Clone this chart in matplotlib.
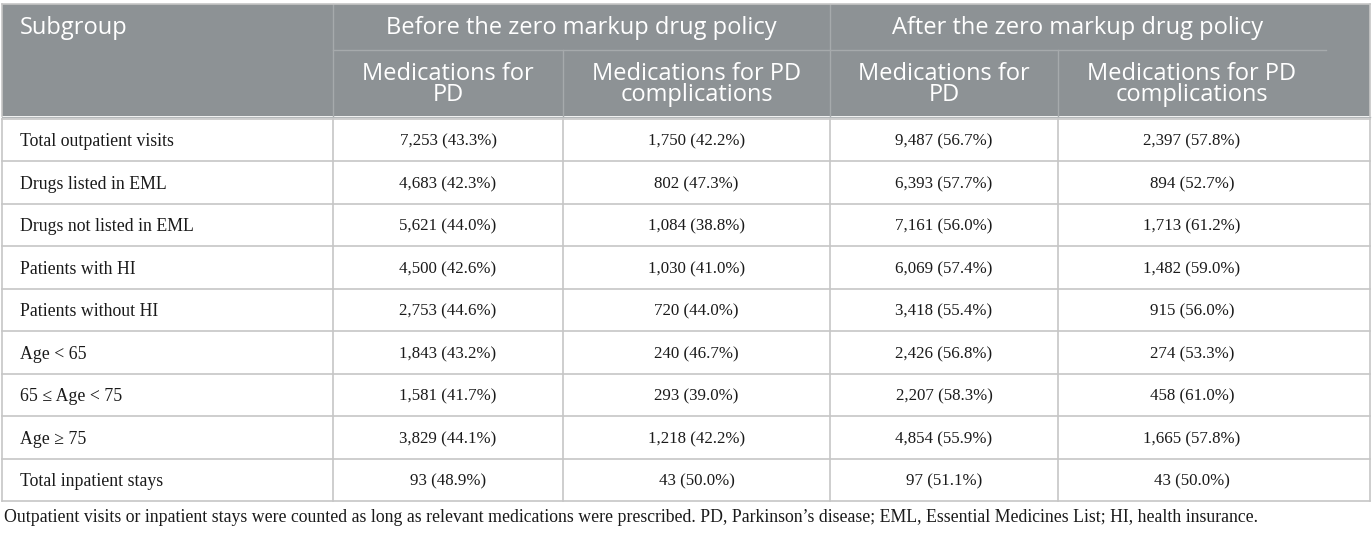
import matplotlib.pyplot as plt

# table content
group_headers = ['Before the zero markup drug policy', 'After the zero markup drug policy']
sub_headers = ['Medications for\nPD', 'Medications for PD\ncomplications',
               'Medications for\nPD', 'Medications for PD\ncomplications']
subgroups = ['Total outpatient visits', 'Drugs listed in EML', 'Drugs not listed in EML',
             'Patients with HI', 'Patients without HI', 'Age < 65', '65 ≤ Age < 75',
             'Age ≥ 75', 'Total inpatient stays']
before_pd = ['7,253 (43.3%)', '4,683 (42.3%)', '5,621 (44.0%)', '4,500 (42.6%)', '2,753 (44.6%)',
             '1,843 (43.2%)', '1,581 (41.7%)', '3,829 (44.1%)', '93 (48.9%)']
before_comp = ['1,750 (42.2%)', '802 (47.3%)', '1,084 (38.8%)', '1,030 (41.0%)', '720 (44.0%)',
               '240 (46.7%)', '293 (39.0%)', '1,218 (42.2%)', '43 (50.0%)']
after_pd = ['9,487 (56.7%)', '6,393 (57.7%)', '7,161 (56.0%)', '6,069 (57.4%)', '3,418 (55.4%)',
            '2,426 (56.8%)', '2,207 (58.3%)', '4,854 (55.9%)', '97 (51.1%)']
after_comp = ['2,397 (57.8%)', '894 (52.7%)', '1,713 (61.2%)', '1,482 (59.0%)', '915 (56.0%)',
              '274 (53.3%)', '458 (61.0%)', '1,665 (57.8%)', '43 (50.0%)']
footnote = ('Outpatient visits or inpatient stays were counted as long as relevant medications were '
            'prescribed. PD, Parkinson\u2019s disease; EML, Essential Medicines List; HI, health insurance.')

W, H = 1372, 534
colx = [2, 333, 563, 830, 1058, 1370]
inner_right = 1326   # content of the last column is laid out up to here
top, mid, hbot = 4, 50, 116
row_top = 118.5
row_h = 42.5

hdr_col = '#8d9295'
hdr_line = '#a6aaac'
grid_col = '#c6c6c6'
txt_col = '#1a1a1a'
serif = 'Liberation Serif'
sans = 'Open Sans'

fig = plt.figure(figsize=(W / 100, H / 100), dpi=100)
ax = fig.add_axes([0, 0, 1, 1])
ax.set_xlim(0, W)
ax.set_ylim(H, 0)
ax.axis('off')

# header background
ax.add_patch(plt.Rectangle((colx[0], top), colx[-1] - colx[0], hbot - top,
                           facecolor=hdr_col, edgecolor='none'))
ax.plot([colx[1], colx[1]], [top, hbot], color=hdr_line, lw=1)
ax.plot([colx[3], colx[3]], [top, hbot], color=hdr_line, lw=1)
ax.plot([colx[2], colx[2]], [mid, hbot], color=hdr_line, lw=1)
ax.plot([colx[4], colx[4]], [mid, hbot], color=hdr_line, lw=1)
ax.plot([colx[1], inner_right], [mid, mid], color=hdr_line, lw=1)

centers = [(colx[1] + colx[2]) / 2, (colx[2] + colx[3]) / 2,
           (colx[3] + colx[4]) / 2, (colx[4] + inner_right) / 2]
group_centers = [(colx[1] + colx[3]) / 2, (colx[3] + inner_right) / 2]

ax.text(20, (top + mid) / 2 + 1.5, 'Subgroup', color='white', fontsize=17, family=sans,
        ha='left', va='center')
for g, cx in zip(group_headers, group_centers):
    ax.text(cx, (top + mid) / 2 + 1.5, g, color='white', fontsize=17, family=sans,
            ha='center', va='center')
for s, cx in zip(sub_headers, centers):
    ax.text(cx, (mid + hbot) / 2 + 1.5, s, color='white', fontsize=17, family=sans,
            ha='center', va='center', linespacing=0.88)

# body
columns = [before_pd, before_comp, after_pd, after_comp]
n = len(subgroups)
bottom = row_top + n * row_h
ax.plot([colx[0], colx[-1]], [hbot + 0.5, hbot + 0.5], color='#b4b8ba', lw=1)
for r in range(n + 1):
    y = row_top + r * row_h
    ax.plot([colx[0], colx[-1]], [y, y], color=grid_col, lw=1.2)
for x in colx:
    ax.plot([x, x], [row_top, bottom], color=grid_col, lw=1.2)
ax.plot([colx[0], colx[0]], [top, hbot], color=grid_col, lw=1.2)
ax.plot([colx[-1], colx[-1]], [top, hbot], color=grid_col, lw=1.2)
ax.plot([colx[0], colx[-1]], [top, top], color=grid_col, lw=1.2)

for r, name in enumerate(subgroups):
    cy = row_top + (r + 0.5) * row_h + 2
    ax.text(20, cy, name, fontsize=12.8, family=serif, color=txt_col, ha='left', va='center')
    for vals, cx in zip(columns, centers):
        ax.text(cx, cy, vals[r], fontsize=12.2, family=serif, color=txt_col,
                ha='center', va='center')

ax.text(4, 517, footnote, fontsize=12.8, family=serif, color=txt_col, ha='left', va='center')

fig.savefig('out.png', dpi=100)
